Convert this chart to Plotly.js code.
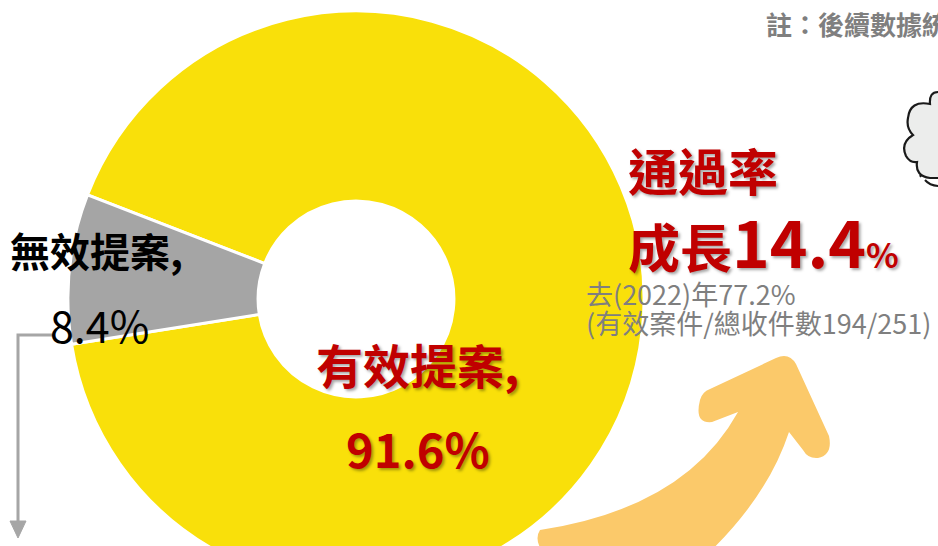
<!DOCTYPE html>
<html>
<head>
<meta charset="utf-8">
<script src="https://cdn.plot.ly/plotly-3.0.1.min.js"></script>
<style>
  body { margin: 0; background: #fff; }
  #wrap { width: 938px; height: 546px; overflow: hidden; }
</style>
</head>
<body>
<div id="wrap"><div id="chart"></div></div>
<script>
// ===== Datos =====
const categorias = ["有效提案", "無效提案"];
const porcentajes = [91.6, 8.4];
const colores = ["#F9E00A", "#A5A5A5"];

const tasaCrecimiento = "14.4";
const anioPrevio = "去(2022)年77.2%";
const detallePrevio = "(有效案件/總收件數194/251)";
const nota = "註：後續數據統計";

// ===== Helpers (pixel -> paper) =====
const W = 938, H = 600;
const px = x => x / W;
const py = y => 1 - y / H;
function ruta(pts) {
  // pts: string with pixel coords, converted to paper coords
  return pts.replace(/(-?\d+(?:\.\d+)?) (-?\d+(?:\.\d+)?)/g, (m, a, b) => `${px(+a)} ${py(+b)}`);
}

const FONT = '"Noto Sans CJK TC", "Noto Sans", sans-serif';
const ROJO = "#C00000";
const GRIS = "#7F7F7F";
const SOMBRA = "2px 2px 3px rgba(0,0,0,0.35)";

const data = [{
  type: "pie",
  labels: categorias,
  values: porcentajes,
  marker: { colors: colores, line: { color: "#ffffff", width: 3 } },
  hole: 0.34,
  sort: false,
  direction: "clockwise",
  rotation: -68.8,
  textinfo: "none",
  hoverinfo: "label+percent",
  showlegend: false,
  domain: { x: [px(68), px(644)], y: [py(587), py(11)] }
}];

function nota_(text, x, y, size, color, opts = {}) {
  return Object.assign({
    xref: "paper", yref: "paper", x: px(x), y: py(y),
    xanchor: "left", yanchor: "middle", showarrow: false,
    text: text,
    font: Object.assign({ family: FONT, size: size, color: color }, opts.font || {})
  }, opts.extra || {});
}

const annotations = [
  nota_(`<b>${categorias[1]},</b>`, 8, 250, 40, "#000000"),
  nota_(`${porcentajes[1]}%`, 48, 324, 43, "#000000"),
  nota_(`<b>${categorias[0]},</b>`, 314, 363, 47, ROJO, { font: { shadow: SOMBRA } }),
  nota_(`<b>${porcentajes[0]}%</b>`, 344, 447, 47, ROJO, { font: { shadow: SOMBRA } }),
  nota_("<b>通過率</b>", 626, 169, 50, ROJO, { font: { shadow: SOMBRA } }),
  nota_(`<b>成長<span style="font-size:64px">${tasaCrecimiento}</span><span style="font-size:34px">%</span></b>`,
        626, 240, 52, ROJO, { font: { shadow: SOMBRA } }),
  nota_(anioPrevio, 584, 293, 27, GRIS),
  nota_(detallePrevio, 584, 322, 27, GRIS),
  nota_(`<b>${nota}</b>`, 764, 23, 26, GRIS)
];

const shapes = [
  // flecha gris desde 8.4%
  { type: "path", xref: "paper", yref: "paper",
    path: ruta("M 55 335 L 18 335 L 18 522"),
    line: { color: "#A6A6A6", width: 3 } },
  { type: "path", xref: "paper", yref: "paper",
    path: ruta("M 10 521 L 26 521 L 18 538 Z"),
    fillcolor: "#A6A6A6", line: { color: "#A6A6A6", width: 1 } },
  // flecha curva naranja
  { type: "path", xref: "paper", yref: "paper", layer: "above",
    path: ruta("M 540 530 Q 685 508 738 412 L 712 422 Q 694 424 700 400 Q 702 392 710 389 L 776 358 Q 789 352 796 364 L 829 436 Q 833 455 818 458 Q 808 459 803 450 L 789 432 Q 765 505 690 570 L 560 570 Q 530 545 540 530 Z"),
    fillcolor: "#FBC96A", line: { width: 0 } },
  // nube
  { type: "path", xref: "paper", yref: "paper",
    path: ruta("M 945 92 L 938 92 Q 929 92 930 104 Q 910 100 908 118 Q 906 128 913 135 Q 900 143 906 156 Q 910 163 917 162 Q 915 176 930 178 L 945 178 Z"),
    fillcolor: "#ECEDEC", line: { color: "#1a1a1a", width: 2.2 } },
  { type: "path", xref: "paper", yref: "paper",
    path: ruta("M 925 180 Q 930 186 940 186"),
    line: { color: "#1a1a1a", width: 2 } },
  { type: "path", xref: "paper", yref: "paper",
    path: ruta("M 920 175 L 921 177"),
    line: { color: "#1a1a1a", width: 2 } }
];

const layout = {
  width: W, height: H,
  margin: { l: 0, r: 0, t: 0, b: 0 },
  paper_bgcolor: "#ffffff",
  font: { family: FONT },
  annotations: annotations,
  shapes: shapes
};

Plotly.newPlot("chart", data, layout, { displayModeBar: false, staticPlot: true });
</script>
</body>
</html>
